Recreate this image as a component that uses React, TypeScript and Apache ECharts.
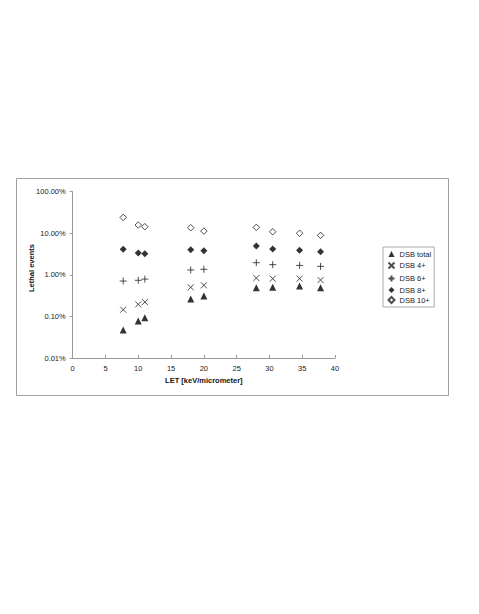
import React, { useEffect, useRef } from "react";
import * as echarts from "echarts";

const xLET = [7.7, 10, 11, 18, 20, 28, 30.5, 34.6, 37.8];
const dsbTotal = [0.047, 0.078, 0.093, 0.262, 0.31, 0.49, 0.5, 0.54, 0.49];
const dsb4 = [0.145, 0.195, 0.222, 0.5, 0.56, 0.84, 0.81, 0.81, 0.75];
const dsb6 = [0.71, 0.74, 0.79, 1.31, 1.36, 1.96, 1.76, 1.69, 1.6];
const dsb8 = [4.1, 3.35, 3.23, 4.03, 3.81, 4.93, 4.18, 3.88, 3.6];
const dsb10 = [24.1, 15.8, 14.4, 13.6, 11.3, 13.9, 10.9, 10.0, 8.9];
const seriesNames = ["DSB total", "DSB 4+", "DSB 6+", "DSB 8+", "DSB 10+"];
const xTicks = { min: 0, max: 40, interval: 5 };
const yRange = { min: 0.01, max: 100 };

const FONT = "Liberation Sans, Arial, sans-serif";

export default function App() {
  const ref = useRef<HTMLDivElement>(null);
  useEffect(() => {
    if (!ref.current) return;
    const chart = echarts.init(ref.current, undefined, { renderer: "svg" });
    const pair = (ys: number[]) => xLET.map((x, i) => [x, ys[i]]);
    const mk = (name: string, ys: number[], symbol: string, size: number, itemStyle: any) => ({
      name,
      type: "scatter",
      data: pair(ys),
      symbol,
      symbolSize: size,
      itemStyle,
      emphasis: { disabled: true },
    });
    chart.setOption({
      animation: false,
      textStyle: { fontFamily: FONT },
      grid: { left: 72.7, right: 144, top: 191.7, bottom: 256, containLabel: false },
      xAxis: {
        type: "value",
        min: xTicks.min,
        max: xTicks.max,
        interval: xTicks.interval,
        splitLine: { show: false },
        axisLine: { lineStyle: { color: "#999", width: 1 } },
        axisTick: { inside: true, length: 3, lineStyle: { color: "#999" } },
        axisLabel: { fontSize: 7.5, color: "#222", margin: 6, fontFamily: FONT },
        name: "LET [keV/micrometer]",
        nameLocation: "middle",
        nameGap: 18,
        nameTextStyle: { fontSize: 7.5, fontWeight: "bold", color: "#111", fontFamily: FONT },
      },
      yAxis: {
        type: "log",
        logBase: 10,
        min: yRange.min,
        max: yRange.max,
        splitLine: { show: false },
        minorTick: { show: false },
        axisLine: { show: true, lineStyle: { color: "#999", width: 1 } },
        axisTick: { show: true, inside: false, length: 3, lineStyle: { color: "#999" } },
        axisLabel: {
          fontSize: 7.5,
          color: "#222",
          margin: 7,
          fontFamily: FONT,
          formatter: (v: number) => Number(v).toFixed(2) + "%",
        },
      },
      legend: {
        orient: "vertical",
        left: 383,
        top: 247,
        padding: [3, 3, 3, 3],
        itemWidth: 6,
        itemHeight: 6,
        itemGap: 2,
        borderColor: "#aaa",
        borderWidth: 1,
        backgroundColor: "#fff",
        textStyle: { fontSize: 7.5, color: "#222", fontFamily: FONT },
        data: seriesNames,
      },
      graphic: [
        {
          type: "rect",
          shape: { x: 16.5, y: 178.5, width: 432, height: 217 },
          style: { fill: "none", stroke: "#a0a0a0", lineWidth: 1 },
          silent: true,
          z: -1,
        },
        {
          type: "text",
          x: 31,
          y: 268,
          rotation: Math.PI / 2,
          style: {
            text: "Lethal events",
            fontSize: 7.5,
            fontWeight: "bold",
            fill: "#111",
            fontFamily: FONT,
            align: "center",
            verticalAlign: "middle",
          },
          silent: true,
        },
      ],
      series: [
        mk(seriesNames[0], dsbTotal, "triangle", 7, { color: "#000" }),
        mk(seriesNames[1], dsb4, "path://M0,0L10,10M10,0L0,10", 6, {
          color: "none",
          borderColor: "#222",
          borderWidth: 1,
        }),
        mk(seriesNames[2], dsb6, "path://M5,0L5,10M0,5L10,5", 7, {
          color: "none",
          borderColor: "#222",
          borderWidth: 1,
        }),
        mk(seriesNames[3], dsb8, "diamond", 7, { color: "#000" }),
        mk(seriesNames[4], dsb10, "diamond", 6.5, {
          color: "#fff",
          borderColor: "#222",
          borderWidth: 1,
        }),
      ],
    });
    return () => chart.dispose();
  }, []);
  return (
    <div
      ref={ref}
      style={{ position: "fixed", left: 0, top: 0, width: 479, height: 614, background: "#fff" }}
    />
  );
}
